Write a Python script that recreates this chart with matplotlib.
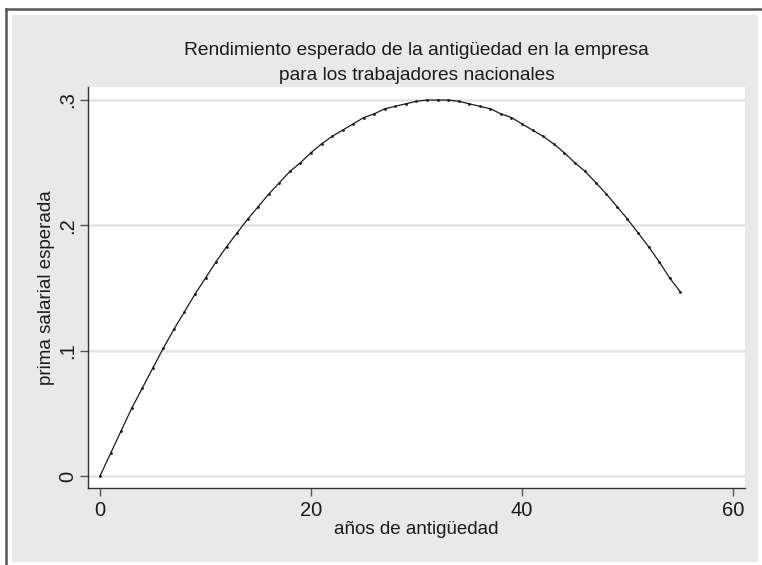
import matplotlib
matplotlib.use("Agg")
import matplotlib.pyplot as plt
from matplotlib.patches import Rectangle
from matplotlib.lines import Line2D

# Data
anios = list(range(0, 56))
prima = [0.000, 0.018, 0.036, 0.054, 0.070, 0.086, 0.102, 0.117, 0.131, 0.145,
         0.158, 0.171, 0.183, 0.194, 0.205, 0.215, 0.225, 0.234, 0.243, 0.250,
         0.258, 0.265, 0.271, 0.276, 0.281, 0.286, 0.289, 0.293, 0.295, 0.297,
         0.299, 0.300, 0.300, 0.300, 0.299, 0.297, 0.295, 0.293, 0.289, 0.286,
         0.281, 0.276, 0.271, 0.265, 0.258, 0.250, 0.243, 0.234, 0.225, 0.215,
         0.205, 0.194, 0.183, 0.171, 0.158, 0.147]
x_ticks = [0, 20, 40, 60]
y_ticks = [0, 0.1, 0.2, 0.3]
y_ticklabels = ["0", ".1", ".2", ".3"]

plt.rcParams['font.family'] = ['Liberation Sans', 'DejaVu Sans']

W, H = 762, 565
fig = plt.figure(figsize=(W / 100, H / 100), dpi=100, facecolor="white")

# Stata-like gray background and cropped frame
fig.patches.append(Rectangle((12 / W, 1 - 562 / H), (758 - 12) / W, (562 - 15) / H,
                             transform=fig.transFigure, facecolor="#e9e9ea",
                             edgecolor="none", zorder=-5))
fig.lines.append(Line2D([6 / W, 6 / W], [0, 1 - 9 / H], transform=fig.transFigure,
                        color="#555555", lw=1.8, zorder=-5))
fig.lines.append(Line2D([6 / W, 1], [1 - 9 / H, 1 - 9 / H], transform=fig.transFigure,
                        color="#555555", lw=1.8, zorder=-5))

ax = fig.add_axes([88 / W, 1 - 488 / H, (745 - 88) / W, (488 - 87) / H])
ax.set_facecolor("white")

ax.plot(anios, prima, color="#1a1a1a", lw=0.9, marker="o", markersize=1.0,
        zorder=3)

ax.set_xlim(-1.14, 61.14)
ax.set_ylim(-0.0096, 0.3104)
ax.set_xticks(x_ticks)
ax.set_yticks(y_ticks)
ax.set_yticklabels(y_ticklabels, rotation=90, va="center")
ax.grid(axis="y", color="#e4e4e4", lw=1.8)
ax.grid(axis="x", visible=False)
ax.set_axisbelow(True)

for side in ["top", "right"]:
    ax.spines[side].set_visible(False)
for side in ["left", "bottom"]:
    ax.spines[side].set_color("#333333")
    ax.spines[side].set_linewidth(1.0)

ax.tick_params(direction="out", length=6, width=1.0, color="#555555",
               labelsize=14.5, labelcolor="#1a1a1a")
ax.tick_params(axis="y", pad=2)
ax.tick_params(axis="x", pad=3)

ax.set_xlabel("años de antigüedad", fontsize=13.5, color="#1a1a1a", labelpad=1)
ax.set_ylabel("prima salarial esperada", fontsize=13.5, color="#1a1a1a", labelpad=2)
ax.set_title("Rendimiento esperado de la antigüedad en la empresa\n"
             "para los trabajadores nacionales",
             fontsize=13.75, color="#1a1a1a", linespacing=1.6, pad=5)

fig.savefig("out.png", dpi=100, facecolor="white")
